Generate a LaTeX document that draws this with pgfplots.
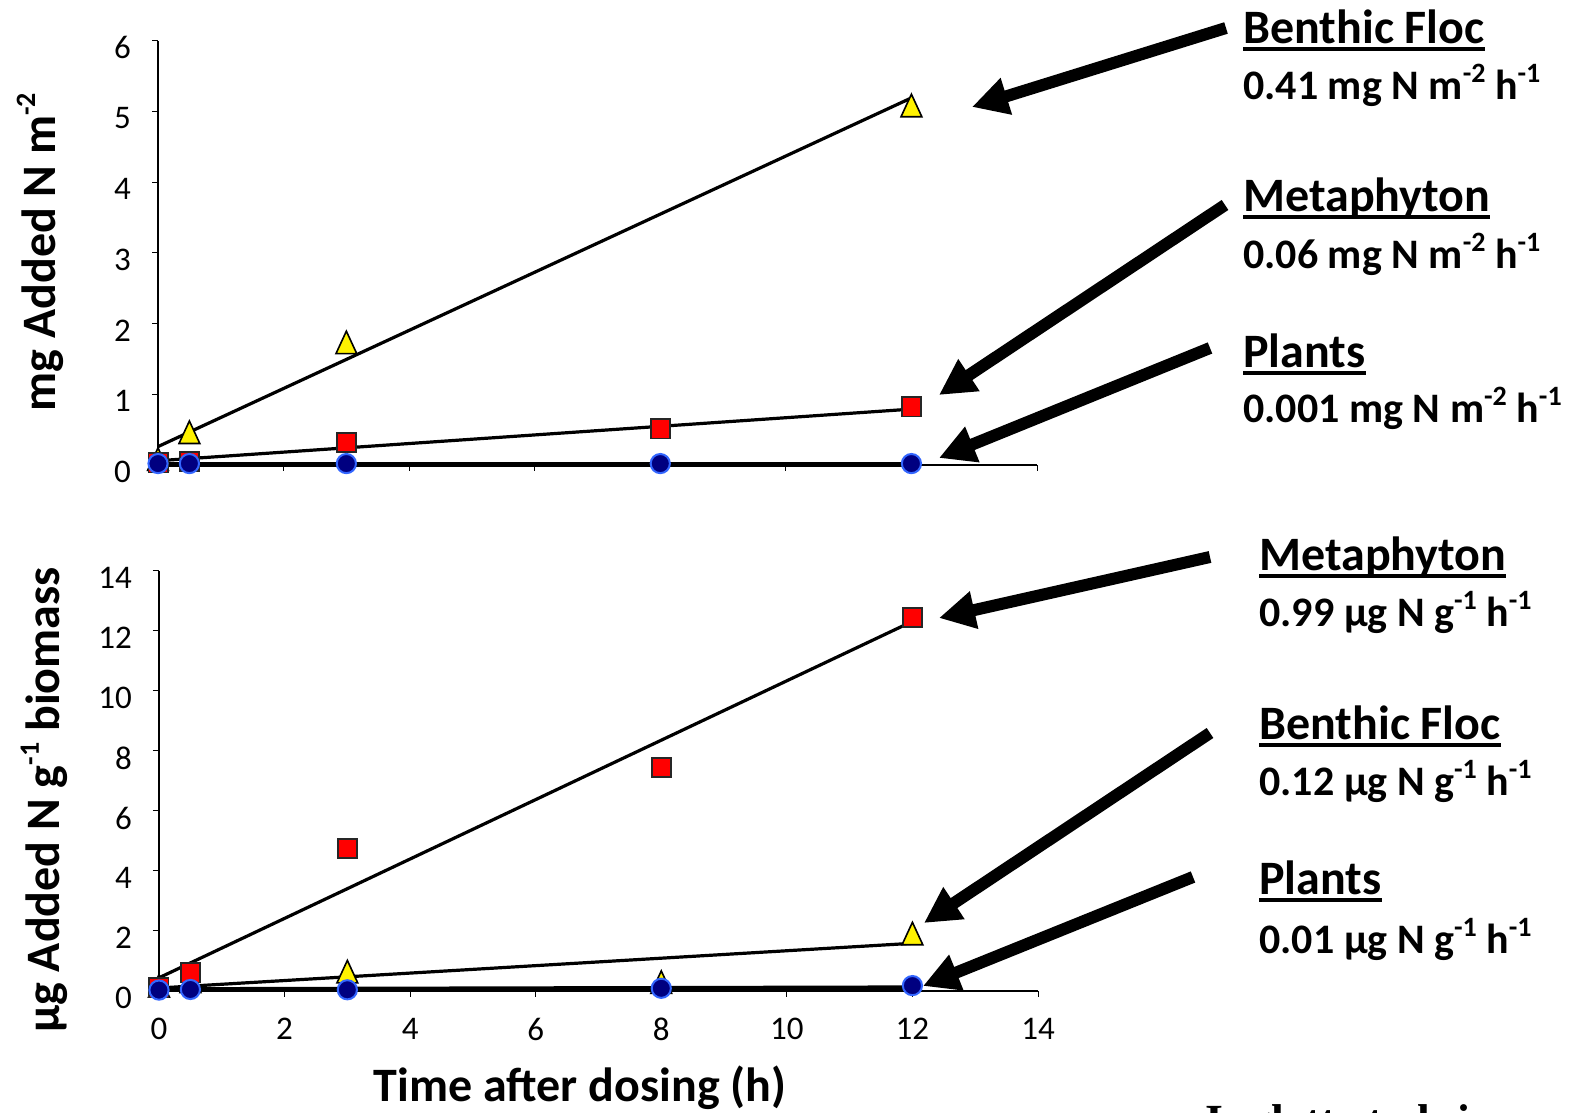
\documentclass[border=0pt]{standalone}
\usepackage{fontspec}
\setmainfont{Carlito}
\newfontfamily\seriffont{Liberation Serif}
\usepackage{pgfplots}
\pgfplotsset{compat=1.18}
\usetikzlibrary{arrows.meta}

\definecolor{navyfill}{RGB}{0,0,128}
\definecolor{edgeblue}{RGB}{51,102,255}

\newcommand{\ul}[1]{\setbox0\hbox{#1}\rlap{\rule[-3.4pt]{\wd0}{1.9pt}}\box0}
\newcommand{\namefont}{\bfseries\fontsize{24}{26}\selectfont}
\newcommand{\ratefont}{\bfseries\fontsize{21}{24}\selectfont}
\newcommand{\sups}[1]{\raisebox{0.42em}{\fontsize{14}{14}\selectfont #1}}

\pgfplotsset{
  myaxis/.style={
    scale only axis, width=439.5pt,
    axis lines*=left, xmin=0, xmax=14,
    xtick={0,2,...,14},
    tick align=outside, major tick length=3pt,
    tick style={black, line width=0.5pt},
    axis line style={black, line width=0.6pt},
    every tick label/.append style={font=\fontsize{16.5}{16.5}\selectfont},
    /pgf/number format/assume math mode=true,
    yticklabel style={xshift=-7pt, yshift=-3.5pt},
    clip=false,
  },
  tri/.style={only marks, mark=triangle*, mark size=6pt,
    mark options={fill=yellow, draw=black, line width=0.8pt, yscale=1.25}},
  sq/.style={only marks, mark=square*, mark size=4.8pt,
    mark options={fill=red, draw=black!85, line width=0.9pt}},
  circ/.style={only marks, mark=*, mark size=4.8pt,
    mark options={fill=navyfill, draw=edgeblue, line width=1pt}},
  trend/.style={black, line width=1.6pt, no marks},
}

\begin{document}
\begin{tikzpicture}
\path[use as bounding box, clip] (0pt,0pt) rectangle (787.5pt,556.5pt);

% ---------- top axis ----------
\begin{axis}[myaxis, at={(79pt,324pt)}, anchor=south west,
  height=212.2pt, ymin=0, ymax=6, ytick={0,...,6},
  xticklabels={}]
\addplot[tri] coordinates {(0,0.03) (0.5,0.41) (3,1.68) (12,5.03)};
\addplot[sq] coordinates {(0,0.03) (0.5,0.05) (3,0.32) (8,0.51) (12,0.82)};
\addplot[circ] coordinates {(0,0.02) (0.5,0.02) (3,0.02) (8,0.02) (12,0.02)};
\addplot[trend] coordinates {(0,0.26) (12,5.19)};
\addplot[trend] coordinates {(0,0.06) (12,0.79)};
\addplot[trend, line width=2.3pt] coordinates {(0,0.01) (12,0.01)};
\end{axis}

% ---------- bottom axis ----------
\begin{axis}[myaxis, at={(79.5pt,61pt)}, anchor=south west,
  height=210pt, ymin=0, ymax=14, ytick={0,2,...,14},
  xticklabel style={yshift=-7pt}]
\addplot[tri] coordinates {(0,0.05) (0.5,0.2) (3,0.52) (8,0.17) (12,1.79)};
\addplot[sq] coordinates {(0,0.1) (0.5,0.6) (3,4.74) (8,7.45) (12,12.44)};
\addplot[circ] coordinates {(0,0.03) (0.5,0.05) (3,0.04) (8,0.09) (12,0.18)};
\addplot[trend] coordinates {(0,0.44) (12,12.32)};
\addplot[trend] coordinates {(0,0.1) (12,1.59)};
\addplot[trend, line width=2.3pt] coordinates {(0,0.05) (12,0.11)};
\end{axis}

\begin{scope}[x=0.5pt, y=0.5pt]
% ---------- axis titles ----------
\node[rotate=90, font=\bfseries\fontsize{24}{24}\selectfont] at (40,861) {mg Added N m\sups{-2}};
\node[rotate=90, font=\bfseries\fontsize{24}{24}\selectfont] at (44,313) {µg Added N g\sups{-1} biomass};
\node[anchor=base, inner sep=0, font=\bfseries\fontsize{24}{26}\selectfont] at (580,11) {Time after dosing (h)};

% ---------- arrows ----------
\begin{scope}[line width=6pt, -{Triangle[length=18pt, width=18pt]}]
\draw (1226,1085) -- (972,1006);
\draw (1225,908) -- (939,718);
\draw (1210,765) -- (939,655);
\draw (1210,556) -- (939,495);
\draw (1210,380) -- (924,190);
\draw (1193,236) -- (923,127);
\end{scope}

% ---------- annotations ----------
\begin{scope}[every node/.style={anchor=base west, inner sep=0}]
\node[font=\namefont] at (1243,1069) {\ul{Benthic Floc}};
\node[font=\ratefont] at (1243,1013) {0.41 mg N m\sups{-2} h\sups{-1}};
\node[font=\namefont] at (1243,901) {\ul{Metaphyton}};
\node[font=\ratefont] at (1243,844) {0.06 mg N m\sups{-2} h\sups{-1}};
\node[font=\namefont] at (1243,745) {\ul{Plants}};
\node[font=\ratefont] at (1243,690) {0.001 mg N m\sups{-2} h\sups{-1}};
\node[font=\namefont] at (1259,542) {\ul{Metaphyton}};
\node[font=\ratefont] at (1259,486) {0.99 µg N g\sups{-1} h\sups{-1}};
\node[font=\namefont] at (1259,373) {\ul{Benthic Floc}};
\node[font=\ratefont] at (1259,317) {0.12 µg N g\sups{-1} h\sups{-1}};
\node[font=\namefont] at (1259,218) {\ul{Plants}};
\node[font=\ratefont] at (1259,159) {0.01 µg N g\sups{-1} h\sups{-1}};
\end{scope}

\node[anchor=base west, inner sep=0, font=\seriffont\bfseries\fontsize{23}{23}\selectfont] at (1205,-24) {Inglett et al. in prep};
\end{scope}
\end{tikzpicture}
\end{document}
